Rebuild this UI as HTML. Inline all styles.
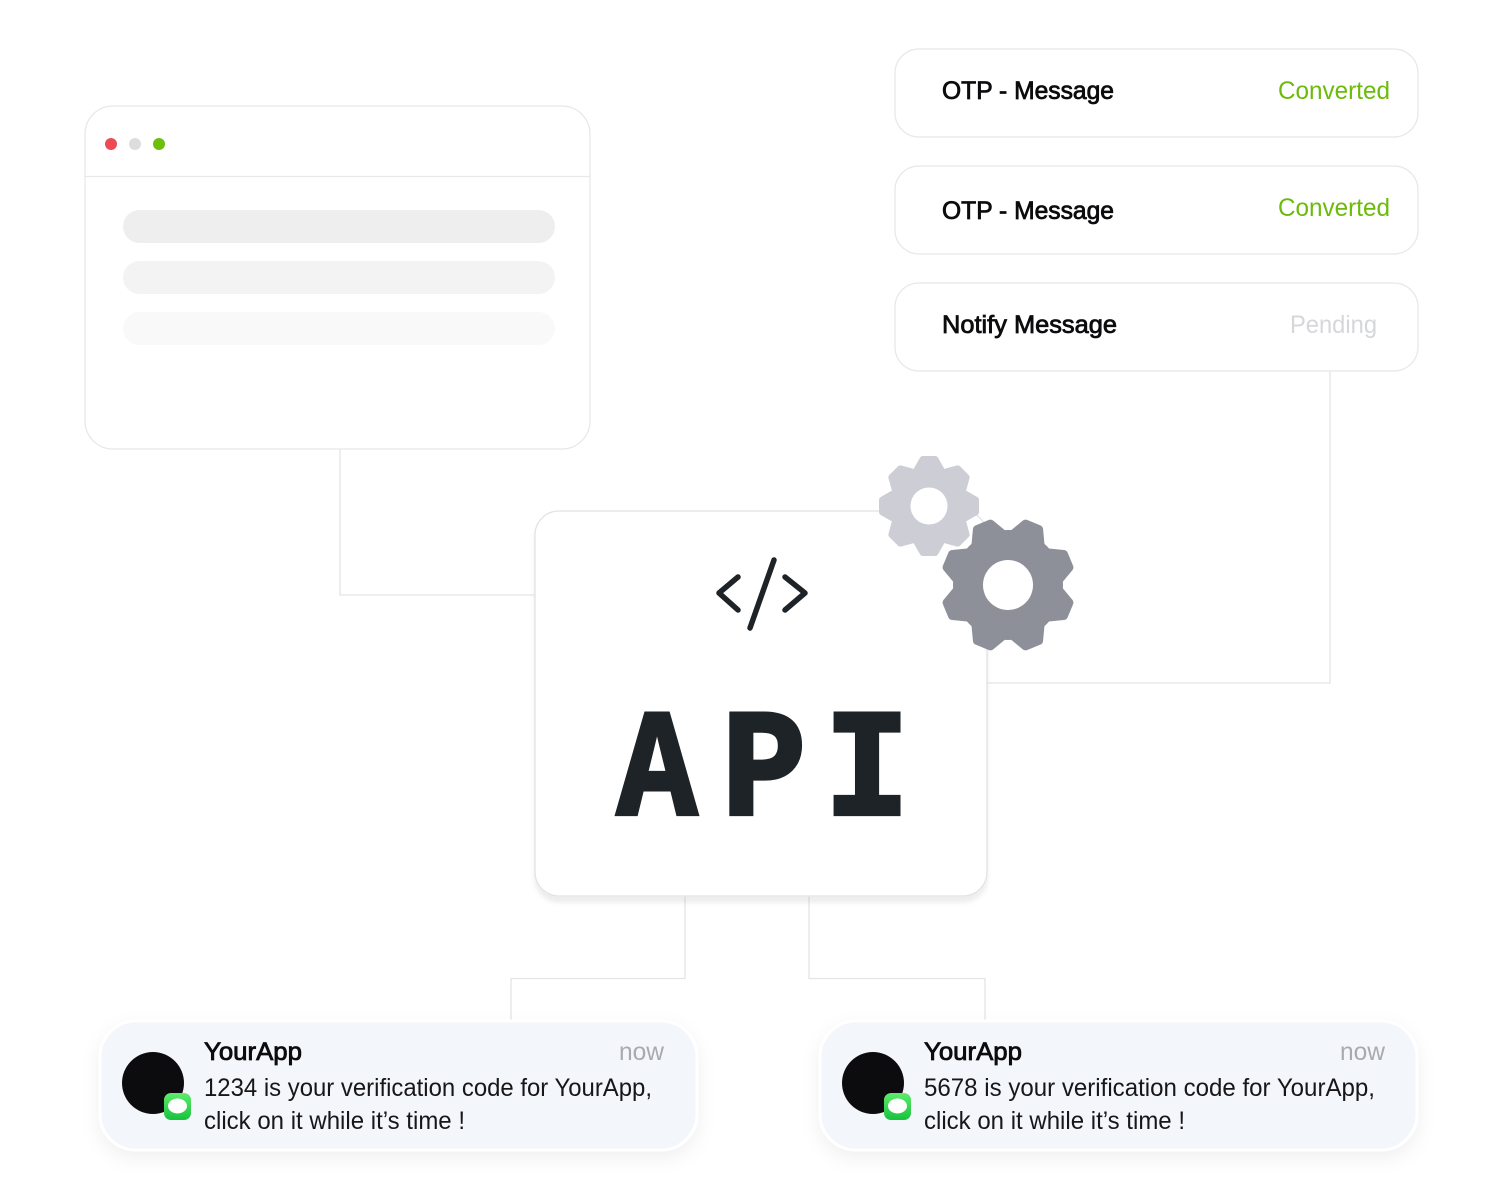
<!DOCTYPE html>
<html><head><meta charset="utf-8"><style>
html,body{margin:0;padding:0;background:#fff;width:1500px;height:1200px;overflow:hidden}
svg{display:block}
text{font-family:"Liberation Sans",sans-serif;font-size:25px}
.b{fill:#0c0c0e;stroke:#0c0c0e;stroke-width:.8}
.r{fill:#17171a}
.m{font-family:"Liberation Mono",monospace;font-weight:bold;font-size:163px;fill:#1d2327;stroke:#1d2327;stroke-width:4.500;stroke-linejoin:miter;text-anchor:middle}
</style></head><body>
<svg width="1500" height="1200" viewBox="0 0 1500 1200" xmlns="http://www.w3.org/2000/svg">
<defs>
<filter id="s1" x="-10%" y="-10%" width="120%" height="120%"><feDropShadow dx="0" dy="6" stdDeviation="2.500" flood-color="#000" flood-opacity=".07"/></filter>
<filter id="s2" x="-10%" y="-25%" width="120%" height="160%"><feDropShadow dx="0" dy="7" stdDeviation="9" flood-color="#000" flood-opacity=".06"/></filter>
<linearGradient id="g" x1="0" y1="0" x2="0" y2="1"><stop offset="0" stop-color="#5fec6c"/><stop offset="1" stop-color="#16c23c"/></linearGradient>
</defs>

<g fill="none" stroke="#e5e5e9" stroke-width="1.300">
<path d="M340 449V595H536"/>
<path d="M1330 371V683H986"/>
<path d="M685 896V978.500H511V1022"/>
<path d="M809 896V978.500H985V1022"/>
</g>

<!-- browser window -->
<rect x="85" y="106" width="505" height="343" rx="28" fill="#fff" stroke="#e8e8ec" stroke-width="1.300"/>
<path d="M85 176.500H590" stroke="#e8e8ec" stroke-width="1.300"/>
<circle cx="111" cy="144" r="6" fill="#ec4b53"/>
<circle cx="135" cy="144" r="6" fill="#dcdddf"/>
<circle cx="159" cy="144" r="6" fill="#6fbe0b"/>
<rect x="123" y="210" width="432" height="33" rx="16.500" fill="#eeeeee"/>
<rect x="123" y="261" width="432" height="33" rx="16.500" fill="#f3f3f3"/>
<rect x="123" y="312" width="432" height="33" rx="16.500" fill="#f9f9f9"/>

<!-- status cards -->
<g fill="#fff" stroke="#e8e8ec" stroke-width="1.300">
<rect x="895" y="49" width="523" height="88" rx="24"/>
<rect x="895" y="166" width="523" height="88" rx="24"/>
<rect x="895" y="283" width="523" height="88" rx="24"/>
</g>
<text class="b" x="942" y="99" textLength="172" lengthAdjust="spacingAndGlyphs">OTP - Message</text>
<text x="1278" y="99" textLength="112" lengthAdjust="spacingAndGlyphs" fill="#6cbb0a">Converted</text>
<text class="b" x="942" y="219" textLength="172" lengthAdjust="spacingAndGlyphs">OTP - Message</text>
<text x="1278" y="216" textLength="112" lengthAdjust="spacingAndGlyphs" fill="#6cbb0a">Converted</text>
<text class="b" x="942" y="333" textLength="175" lengthAdjust="spacingAndGlyphs">Notify Message</text>
<text x="1290" y="333" textLength="87" lengthAdjust="spacingAndGlyphs" fill="#d6d7db">Pending</text>

<!-- API card -->
<rect x="535" y="511" width="452" height="385" rx="24" fill="#fff" stroke="#e2e2e6" stroke-width="1.300" filter="url(#s1)"/>
<g fill="none" stroke="#1d2327" stroke-width="5.500" stroke-linecap="round" stroke-linejoin="round">
<path d="M738 577L719 593L738 610"/>
<path d="M785 577L805 593L785 610"/>
<path d="M774 560L750 628"/>
</g>
<text class="m" transform="translate(657 814) scale(.818 .935)">A</text>
<text class="m" transform="translate(764 814) scale(.86 .935)">P</text>
<text class="m" transform="translate(867 814) scale(.865 .935)">I</text>

<!-- small gear -->
<g transform="translate(929 506)" fill="#cdced5">
<circle r="40"/>
<g stroke="#cdced5" stroke-width="7" stroke-linejoin="round">
<polygon points="-6,-46.500 6,-46.500 12,-36 12,36 6,46.500 -6,46.500 -12,36 -12,-36"/>
<polygon transform="rotate(45)" points="-6,-46.500 6,-46.500 12,-36 12,36 6,46.500 -6,46.500 -12,36 -12,-36"/>
<polygon transform="rotate(90)" points="-6,-46.500 6,-46.500 12,-36 12,36 6,46.500 -6,46.500 -12,36 -12,-36"/>
<polygon transform="rotate(135)" points="-6,-46.500 6,-46.500 12,-36 12,36 6,46.500 -6,46.500 -12,36 -12,-36"/>
</g>
<circle r="18.500" fill="#fff"/>
</g>
<!-- big gear -->
<g transform="translate(1008 585)" fill="#8d8f99">
<circle r="55"/>
<g stroke="#8d8f99" stroke-width="9" stroke-linejoin="round">
<polygon transform="rotate(22.500)" points="-7,-63 7,-63 16,-46 16,46 7,63 -7,63 -16,46 -16,-46"/>
<polygon transform="rotate(67.500)" points="-7,-63 7,-63 16,-46 16,46 7,63 -7,63 -16,46 -16,-46"/>
<polygon transform="rotate(112.500)" points="-7,-63 7,-63 16,-46 16,46 7,63 -7,63 -16,46 -16,-46"/>
<polygon transform="rotate(157.500)" points="-7,-63 7,-63 16,-46 16,46 7,63 -7,63 -16,46 -16,-46"/>
</g>
<circle r="25" fill="#fff"/>
</g>

<!-- notification 1 -->
<rect x="100" y="1021" width="597" height="129" rx="36" fill="#f3f6fa" stroke="#fff" stroke-width="3" filter="url(#s2)"/>
<circle cx="153" cy="1083" r="31" fill="#0c0c0e"/>
<rect x="164" y="1093" width="27" height="27" rx="7" fill="url(#g)"/>
<ellipse cx="177.500" cy="1106" rx="9.500" ry="7.500" fill="#fff"/>
<text class="b" x="204" y="1060" textLength="98" lengthAdjust="spacingAndGlyphs">YourApp</text>
<text x="619" y="1060" textLength="45" lengthAdjust="spacingAndGlyphs" fill="#a9a9ae">now</text>
<text class="r" x="204" y="1096" textLength="448" lengthAdjust="spacingAndGlyphs">1234 is your verification code for YourApp,</text>
<text class="r" x="204" y="1129" textLength="261" lengthAdjust="spacingAndGlyphs">click on it while it’s time !</text>

<!-- notification 2 -->
<rect x="820" y="1021" width="597" height="129" rx="36" fill="#f3f6fa" stroke="#fff" stroke-width="3" filter="url(#s2)"/>
<circle cx="873" cy="1083" r="31" fill="#0c0c0e"/>
<rect x="884" y="1093" width="27" height="27" rx="7" fill="url(#g)"/>
<ellipse cx="897.500" cy="1106" rx="9.500" ry="7.500" fill="#fff"/>
<text class="b" x="924" y="1060" textLength="98" lengthAdjust="spacingAndGlyphs">YourApp</text>
<text x="1340" y="1060" textLength="45" lengthAdjust="spacingAndGlyphs" fill="#a9a9ae">now</text>
<text class="r" x="924" y="1096" textLength="451" lengthAdjust="spacingAndGlyphs">5678 is your verification code for YourApp,</text>
<text class="r" x="924" y="1129" textLength="261" lengthAdjust="spacingAndGlyphs">click on it while it’s time !</text>
</svg>
</body></html>
